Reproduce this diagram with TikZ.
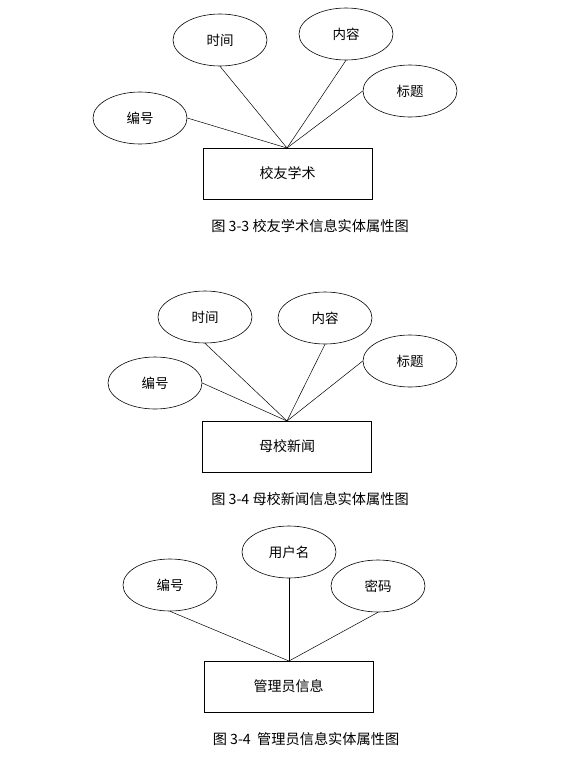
\documentclass[tikz,border=0pt]{standalone}
\usepackage{fontspec}
\setmainfont{Noto Sans CJK SC}
\usetikzlibrary{shapes.geometric}
\tikzset{
  attr/.style={draw, ellipse, line width=0.6pt, minimum width=94pt, minimum height=52pt, inner sep=0pt, font=\fontsize{13.5}{15}\selectfont},
  entity/.style={draw, rectangle, line width=0.6pt, minimum width=169pt, minimum height=51pt, inner sep=0pt, font=\fontsize{14}{16}\selectfont},
  link/.style={line width=0.5pt},
  caption/.style={inner sep=0pt, font=\fontsize{14.2}{16}\selectfont}
}
\begin{document}
\begin{tikzpicture}[x=1pt,y=-1pt]
\useasboundingbox (0,0) rectangle (585,774);
% ---- diagram 1
\node[attr] (a1) at (220,40) {时间};
\node[attr] (b1) at (346,34) {内容};
\node[attr] (c1) at (410,91) {标题};
\node[attr] (d1) at (140,118) {编号};
\node[entity] (e1) at (287.5,173.5) {校友学术};
\coordinate (p1) at (287,148);
\draw[link] (a1.south) -- (p1);
\draw[link] (b1.south) -- (p1);
\draw[link] (c1.west) -- (p1);
\draw[link] (d1.east) -- (p1);
\node[caption] (cap1) at (310,226) {图 3-3 校友学术信息实体属性图};
% ---- diagram 2
\node[attr] (a2) at (205,317) {时间};
\node[attr] (b2) at (325,318) {内容};
\node[attr] (c2) at (410,361) {标题};
\node[attr] (d2) at (155,383) {编号};
\node[entity] (e2) at (287,446.5) {母校新闻};
\coordinate (p2) at (287,421);
\draw[link] (a2.south) -- (p2);
\draw[link] (b2.south) -- (p2);
\draw[link] (c2.west) -- (p2);
\draw[link] (d2.east) -- (p2);
\node[caption] (cap2) at (310,499) {图 3-4 母校新闻信息实体属性图};
% ---- diagram 3
\node[attr] (a3) at (289,552) {用户名};
\node[attr] (b3) at (170,585) {编号};
\node[attr] (c3) at (378,586) {密码};
\node[entity] (e3) at (288.5,686.5) {管理员信息};
\coordinate (p3) at (289,661);
\draw[link] (a3.south) -- (p3);
\draw[link] (b3.south) -- (p3);
\draw[link] (c3.south) -- (p3);
\node[caption] (cap3) at (306,739) {图 3-4\ \ 管理员信息实体属性图};
\end{tikzpicture}
\end{document}
